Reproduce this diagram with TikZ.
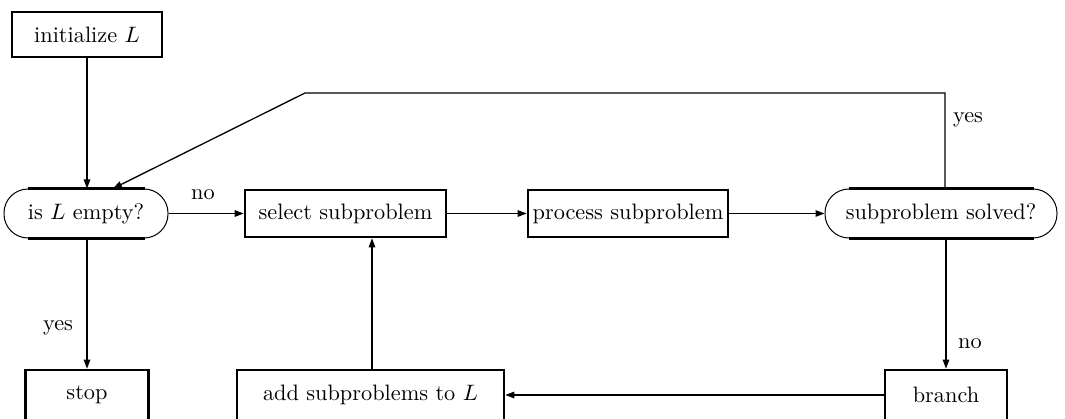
\documentclass[tikz,border=0pt]{standalone}
\usetikzlibrary{arrows.meta,calc}
\newcommand\tx[1]{\scalebox{2.23}{#1}}
\begin{document}
\begin{tikzpicture}[x=1pt,y=-1pt,
  every node/.style={font=\normalsize, inner sep=0pt},
  box/.style={draw, line width=2.6pt, minimum height=47pt},
  rbox/.style={draw, line width=1pt, rounded corners=24pt, minimum height=49pt},
  conn/.style={line width=1.3pt, -{Triangle[length=9pt,width=6.5pt]}},
  lbl/.style={}]
\useasboundingbox (0,0) rectangle (1065,419);
\clip (0,0) rectangle (1065,419);
\node[box, minimum width=150pt, minimum height=45pt] (init) at (87,34.5) {\tx{initialize $L$}};
\node[rbox, minimum width=164pt] (empty) at (86,213.5) {\tx{is $L$ empty?}};
\node[box, minimum width=201pt] (select) at (345.5,213.5) {\tx{select subproblem}};
\node[box, minimum width=200pt] (process) at (628,213.5) {\tx{process subproblem}};
\node[rbox, minimum width=232pt] (solved) at (941,213.5) {\tx{subproblem solved?}};
\node[box, minimum width=123pt, minimum height=50pt] (stop) at (87,395) {\tx{stop}};
\node[box, minimum width=267pt, minimum height=50pt] (add) at (370.5,395) {\tx{add subproblems to $L$}};
\node[box, minimum width=122pt, minimum height=50pt] (branch) at (946,395) {\tx{branch}};
% thick straight edges of rounded nodes
\foreach \n in {empty,solved}{
  \draw[line width=2.6pt] ($(\n.north west)+(24,0)$) -- ($(\n.north east)+(-24,0)$);
  \draw[line width=2.6pt] ($(\n.south west)+(24,0)$) -- ($(\n.south east)+(-24,0)$);
}
\coordinate (c1) at (945,93);
\coordinate (c2) at (305,93);
\draw[conn] (init.south) -- (init.south |- empty.north);
\draw[conn] (empty.east) -- (select.west);
\draw[conn] (select.east) -- (process.west);
\draw[conn] (process.east) -- (solved.west);
\draw[conn] (solved.north -| c1) -- (c1) -- (c2) -- (113,188.5);
\draw[conn] (stop.north |- empty.south) -- (stop.north);
\draw[conn] (solved.south -| branch.north) -- (branch.north);
\draw[conn] (branch.west) -- (add.east);
\draw[conn] (add.north -| 372,0) -- (select.south -| 372,0);
\node[lbl] (no1) at (203,195) {\tx{no}};
\node[lbl] (yes1) at (968,120) {\tx{yes}};
\node[lbl] (yes2) at (58,328) {\tx{yes}};
\node[lbl] (no2) at (970,344) {\tx{no}};
\end{tikzpicture}
\end{document}
